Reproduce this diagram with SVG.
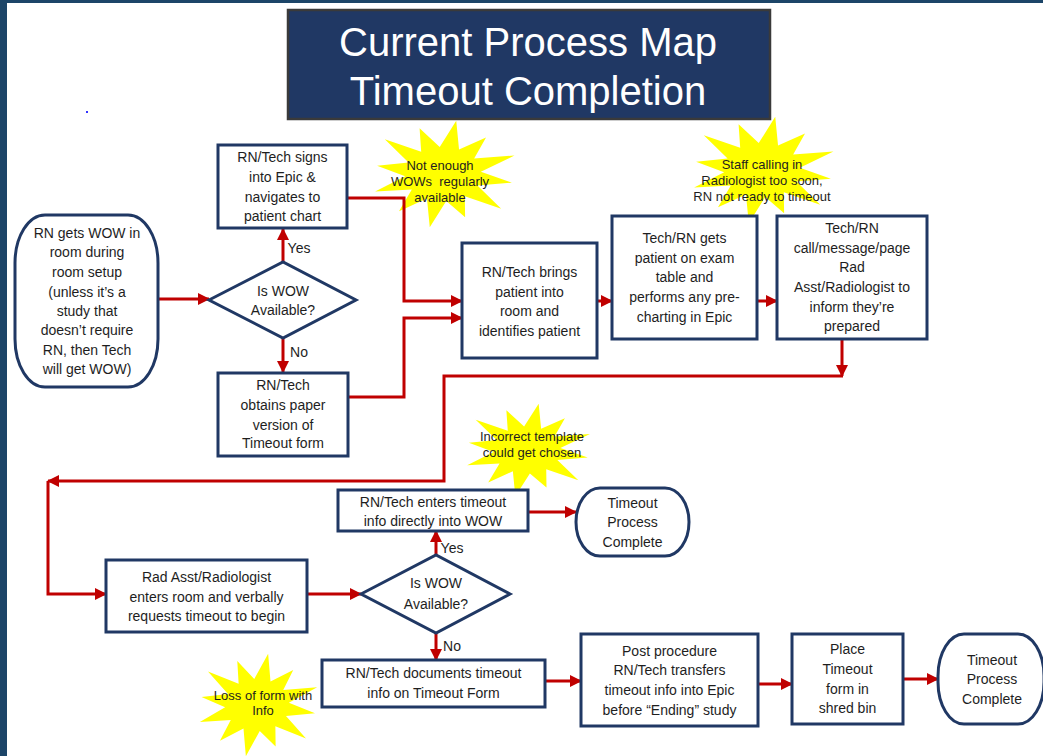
<svg xmlns="http://www.w3.org/2000/svg" xmlns:xlink="http://www.w3.org/1999/xlink" width="1043" height="756" viewBox="0 0 1043 756">
<style>
.node{fill:#fff;stroke:#203864;stroke-width:3}
.t{font-family:"Liberation Sans",Arial,sans-serif;font-size:14px;fill:#1e1e1e;text-anchor:middle}
.bt{font-family:"Liberation Sans",Arial,sans-serif;font-size:13px;fill:#1e1e1e;text-anchor:middle}
.title{font-family:"Liberation Sans",Arial,sans-serif;font-size:40px;fill:#fff;text-anchor:middle}
.conn{fill:none;stroke:#c00000;stroke-width:3}
.burst{fill:#ffff00}
</style>
<defs>
<marker id="ah" markerUnits="userSpaceOnUse" markerWidth="12" markerHeight="12" refX="11" refY="6" orient="auto">
<path d="M0,0 L12,6 L0,12 z" fill="#c00000"/>
</marker>
<polygon id="star" points="17.4,-98.5 21.1,-45.3 56.6,-67.4 41,-28.7 94,-34.2 49.8,-4.3 90.6,16 45.3,21.1 76.6,64.3 28.7,41 29.1,79.9 4.3,49.8 -17.4,98.5 -21.1,45.3 -57.9,68.9 -41,28.7 -89.3,32.5 -49.8,4.3 -86.7,-15.3 -45.3,-21.1 -76.6,-64.3 -28.7,-41 -30.8,-84.6 -4.3,-49.8"/>
</defs>
<rect x="0" y="0" width="1043" height="756" fill="#fff"/>
<rect x="0" y="0" width="7" height="756" fill="#1c4568"/>
<rect x="0" y="0" width="1043" height="3" fill="#1c4568"/>
<rect x="86" y="111" width="2" height="2" fill="#3333ff"/>

<g id="title">
<rect x="288" y="10" width="482" height="109" fill="#203864" stroke="#3a3a3a" stroke-width="2.5"/>
<text class="title" x="528" y="56">Current Process Map</text>
<text class="title" x="528" y="105">Timeout Completion</text>
</g>

<g id="bursts">
<g id="burst1"><use xlink:href="#star" class="burst" transform="translate(443,174) scale(0.76,0.54)"/>
<text class="bt" x="440" y="170">Not enough</text><text class="bt" x="440" y="186">WOWs&#160; regularly</text><text class="bt" x="440" y="202">available</text></g>
<g id="burst2"><use xlink:href="#star" class="burst" transform="translate(762,170) scale(0.76,0.54)"/>
<text class="bt" x="762" y="169">Staff calling in</text><text class="bt" x="762" y="185">Radiologist too soon,</text><text class="bt" x="762" y="201">RN not ready to timeout</text></g>
<g id="burst3"><use xlink:href="#star" class="burst" transform="translate(527,450) scale(0.67,0.47)"/>
<text class="bt" x="532" y="441">Incorrect template</text><text class="bt" x="532" y="457">could get chosen</text></g>
<g id="burst4"><use xlink:href="#star" class="burst" transform="translate(257,705) scale(0.64,0.52)"/>
<text class="bt" x="263" y="700">Loss of form with</text><text class="bt" x="263" y="715">Info</text></g>
</g>

<g id="connectors">
<path class="conn" marker-end="url(#ah)" d="M158,299 L209,299"/>
<path class="conn" marker-end="url(#ah)" d="M283,262 L283,229"/>
<path class="conn" marker-end="url(#ah)" d="M283,338 L283,372"/>
<path class="conn" marker-end="url(#ah)" d="M347,198 L404,198 L404,301 L462,301"/>
<path class="conn" marker-end="url(#ah)" d="M348,397 L404,397 L404,318 L462,318"/>
<path class="conn" marker-end="url(#ah)" d="M597,301 L612,301"/>
<path class="conn" marker-end="url(#ah)" d="M757,301 L777,301"/>
<path class="conn" marker-end="url(#ah)" d="M842,339 L842,376"/>
<path class="conn" marker-end="url(#ah)" d="M843,376 L444,376 L444,481 L48,481"/>
<path class="conn" marker-end="url(#ah)" d="M48,481 L48,594 L106,594"/>
<path class="conn" marker-end="url(#ah)" d="M307,594 L361,594"/>
<path class="conn" marker-end="url(#ah)" d="M436,555 L436,531"/>
<path class="conn" marker-end="url(#ah)" d="M528,512 L576,512"/>
<path class="conn" marker-end="url(#ah)" d="M436,633 L436,660"/>
<path class="conn" marker-end="url(#ah)" d="M545,681 L581,681"/>
<path class="conn" marker-end="url(#ah)" d="M758,684 L792,684"/>
<path class="conn" marker-end="url(#ah)" d="M903,679 L938,679"/>
<text class="t" x="299" y="253">Yes</text>
<text class="t" x="299" y="357">No</text>
<text class="t" x="452" y="553">Yes</text>
<text class="t" x="452" y="651">No</text>
</g>

<g id="start">
<rect class="node" x="15" y="215" width="143" height="172" rx="30" ry="48"/>
<text class="t" x="87" y="238">RN gets WOW in</text>
<text class="t" x="87" y="257">room during</text>
<text class="t" x="87" y="277">room setup</text>
<text class="t" x="87" y="297">(unless it’s a</text>
<text class="t" x="87" y="316">study that</text>
<text class="t" x="87" y="335">doesn’t require</text>
<text class="t" x="87" y="355">RN, then Tech</text>
<text class="t" x="87" y="374">will get WOW)</text>
</g>

<g id="decision1">
<polygon class="node" points="209,300 283,262 356,300 283,338"/>
<text class="t" x="283" y="296">Is WOW</text>
<text class="t" x="283" y="315">Available?</text>
</g>

<g id="signin">
<rect class="node" x="218" y="145" width="129" height="83"/>
<text class="t" x="282.5" y="162">RN/Tech signs</text>
<text class="t" x="282.5" y="182">into Epic &amp;</text>
<text class="t" x="282.5" y="202">navigates to</text>
<text class="t" x="282.5" y="221">patient chart</text>
</g>

<g id="paper">
<rect class="node" x="218" y="373" width="130" height="83"/>
<text class="t" x="283" y="390">RN/Tech</text>
<text class="t" x="283" y="410">obtains paper</text>
<text class="t" x="283" y="430">version of</text>
<text class="t" x="283" y="448">Timeout form</text>
</g>

<g id="brings">
<rect class="node" x="462" y="243" width="135" height="115"/>
<text class="t" x="529.5" y="277">RN/Tech brings</text>
<text class="t" x="529.5" y="297">patient into</text>
<text class="t" x="529.5" y="316">room and</text>
<text class="t" x="529.5" y="336">identifies patient</text>
</g>

<g id="gets">
<rect class="node" x="612" y="216" width="145" height="123"/>
<text class="t" x="684.5" y="243">Tech/RN gets</text>
<text class="t" x="684.5" y="263">patient on exam</text>
<text class="t" x="684.5" y="282">table and</text>
<text class="t" x="684.5" y="302">performs any pre-</text>
<text class="t" x="684.5" y="322">charting in Epic</text>
</g>

<g id="call">
<rect class="node" x="777" y="216" width="150" height="123"/>
<text class="t" x="852" y="233">Tech/RN</text>
<text class="t" x="852" y="253">call/message/page</text>
<text class="t" x="852" y="272">Rad</text>
<text class="t" x="852" y="292">Asst/Radiologist to</text>
<text class="t" x="852" y="312">inform they’re</text>
<text class="t" x="852" y="331">prepared</text>
</g>

<g id="radasst">
<rect class="node" x="106" y="560" width="201" height="72"/>
<text class="t" x="206.5" y="582">Rad Asst/Radiologist</text>
<text class="t" x="206.5" y="602">enters room and verbally</text>
<text class="t" x="206.5" y="621">requests timeout to begin</text>
</g>

<g id="decision2">
<polygon class="node" points="361,594 436,555 510,594 436,633"/>
<text class="t" x="436" y="588">Is WOW</text>
<text class="t" x="436" y="609">Available?</text>
</g>

<g id="enters">
<rect class="node" x="338" y="490" width="190" height="41"/>
<text class="t" x="433" y="507">RN/Tech enters timeout</text>
<text class="t" x="433" y="526">info directly into WOW</text>
</g>

<g id="end1">
<rect class="node" x="576" y="488" width="113" height="68" rx="24" ry="34"/>
<text class="t" x="632.5" y="508">Timeout</text>
<text class="t" x="632.5" y="527">Process</text>
<text class="t" x="632.5" y="547">Complete</text>
</g>

<g id="documents">
<rect class="node" x="322" y="660" width="223" height="47"/>
<text class="t" x="433.5" y="678">RN/Tech documents timeout</text>
<text class="t" x="433.5" y="698">info on Timeout Form</text>
</g>

<g id="post">
<rect class="node" x="581" y="634" width="177" height="92"/>
<text class="t" x="669.5" y="656">Post procedure</text>
<text class="t" x="669.5" y="675">RN/Tech transfers</text>
<text class="t" x="669.5" y="695">timeout info into Epic</text>
<text class="t" x="669.5" y="715">before “Ending” study</text>
</g>

<g id="shred">
<rect class="node" x="792" y="634" width="111" height="90"/>
<text class="t" x="847.5" y="654">Place</text>
<text class="t" x="847.5" y="674">Timeout</text>
<text class="t" x="847.5" y="694">form in</text>
<text class="t" x="847.5" y="713">shred bin</text>
</g>

<g id="end2">
<rect class="node" x="938" y="634" width="106" height="90" rx="26" ry="42"/>
<text class="t" x="992" y="665">Timeout</text>
<text class="t" x="992" y="684">Process</text>
<text class="t" x="992" y="704">Complete</text>
</g>
</svg>
